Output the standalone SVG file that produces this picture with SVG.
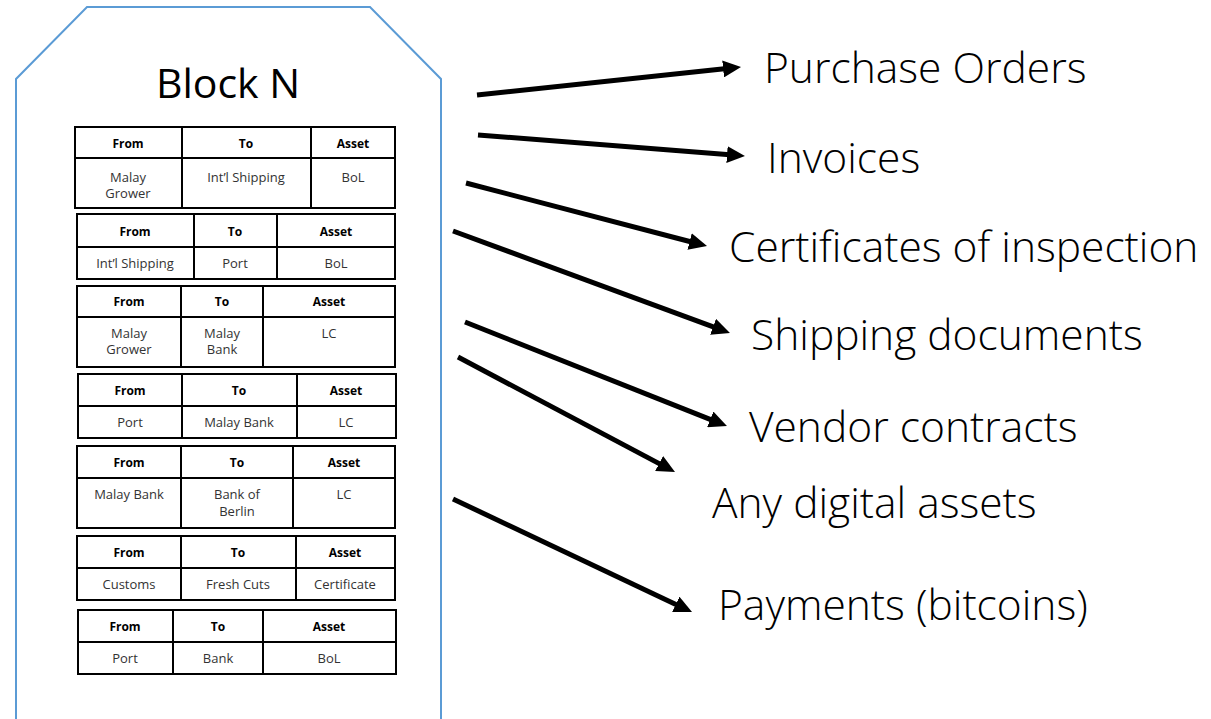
<svg xmlns="http://www.w3.org/2000/svg" width="1211" height="719" viewBox="0 0 1211 719">
<style>
.blk{fill:none;stroke:#5B9BD5;stroke-width:2}
.tb{fill:#fff;stroke:#000;stroke-width:2}
.ln{stroke:#000;stroke-width:2}
.h{font-family:"Open Sans","Liberation Sans",sans-serif;font-size:12px;font-weight:bold;fill:#000;text-anchor:middle}
.d{font-family:"Open Sans","Liberation Sans",sans-serif;font-size:13px;fill:#333;text-anchor:middle}
.title{font-family:"Open Sans","Liberation Sans",sans-serif;font-size:41px;fill:#000;text-anchor:middle}
.lbl{font-family:"Open Sans","Liberation Sans",sans-serif;font-size:42.5px;font-weight:300;fill:#000}
.arr{stroke:#000;stroke-width:5;fill:none;marker-end:url(#ah)}
</style>
<defs>
<marker id="ah" markerUnits="userSpaceOnUse" markerWidth="18" markerHeight="17" refX="6" refY="8.5" orient="auto">
<path d="M0,0 L18,8.5 L0,17 Z" fill="#000"/>
</marker>
</defs>
<rect width="1211" height="719" fill="#fff"/>
<g id="block">
<path class="blk" d="M16,719 L16,79 L87,7 L370,7 L441,79 L441,719"/>
<text class="title" x="228" y="98">Block N</text>
</g>
<g id="table1">
<rect class="tb" x="75" y="127" width="320" height="81"/>
<line class="ln" x1="75" y1="158" x2="395" y2="158"/>
<line class="ln" x1="182" y1="127" x2="182" y2="208"/>
<line class="ln" x1="311" y1="127" x2="311" y2="208"/>
<text class="h" x="128" y="148">From</text><text class="h" x="246" y="148">To</text><text class="h" x="353" y="148">Asset</text>
<text class="d" x="128" y="182">Malay</text><text class="d" x="128" y="198">Grower</text>
<text class="d" x="246" y="182">Int’l Shipping</text><text class="d" x="353" y="182">BoL</text>
</g>
<g id="table2">
<rect class="tb" x="77" y="214" width="318" height="65"/>
<line class="ln" x1="77" y1="247" x2="395" y2="247"/>
<line class="ln" x1="194" y1="214" x2="194" y2="279"/>
<line class="ln" x1="277" y1="214" x2="277" y2="279"/>
<text class="h" x="135" y="236">From</text><text class="h" x="235" y="236">To</text><text class="h" x="336" y="236">Asset</text>
<text class="d" x="135" y="268">Int’l Shipping</text><text class="d" x="235" y="268">Port</text><text class="d" x="336" y="268">BoL</text>
</g>
<g id="table3">
<rect class="tb" x="77" y="286" width="318" height="81"/>
<line class="ln" x1="77" y1="317" x2="395" y2="317"/>
<line class="ln" x1="181" y1="286" x2="181" y2="367"/>
<line class="ln" x1="263" y1="286" x2="263" y2="367"/>
<text class="h" x="129" y="306">From</text><text class="h" x="222" y="306">To</text><text class="h" x="329" y="306">Asset</text>
<text class="d" x="129" y="338">Malay</text><text class="d" x="129" y="354">Grower</text>
<text class="d" x="222" y="338">Malay</text><text class="d" x="222" y="354">Bank</text>
<text class="d" x="329" y="338">LC</text>
</g>
<g id="table4">
<rect class="tb" x="78" y="374" width="318" height="64"/>
<line class="ln" x1="78" y1="406" x2="396" y2="406"/>
<line class="ln" x1="182" y1="374" x2="182" y2="438"/>
<line class="ln" x1="297" y1="374" x2="297" y2="438"/>
<text class="h" x="130" y="395">From</text><text class="h" x="239" y="395">To</text><text class="h" x="346" y="395">Asset</text>
<text class="d" x="130" y="427">Port</text><text class="d" x="239" y="427">Malay Bank</text><text class="d" x="346" y="427">LC</text>
</g>
<g id="table5">
<rect class="tb" x="77" y="446" width="318" height="82"/>
<line class="ln" x1="77" y1="478" x2="395" y2="478"/>
<line class="ln" x1="181" y1="446" x2="181" y2="528"/>
<line class="ln" x1="293" y1="446" x2="293" y2="528"/>
<text class="h" x="129" y="467">From</text><text class="h" x="237" y="467">To</text><text class="h" x="344" y="467">Asset</text>
<text class="d" x="129" y="499">Malay Bank</text>
<text class="d" x="237" y="499">Bank of</text><text class="d" x="237" y="516">Berlin</text>
<text class="d" x="344" y="499">LC</text>
</g>
<g id="table6">
<rect class="tb" x="77" y="536" width="318" height="64"/>
<line class="ln" x1="77" y1="568" x2="395" y2="568"/>
<line class="ln" x1="181" y1="536" x2="181" y2="600"/>
<line class="ln" x1="296" y1="536" x2="296" y2="600"/>
<text class="h" x="129" y="557">From</text><text class="h" x="238" y="557">To</text><text class="h" x="345" y="557">Asset</text>
<text class="d" x="129" y="589">Customs</text><text class="d" x="238" y="589">Fresh Cuts</text><text class="d" x="345" y="589">Certificate</text>
</g>
<g id="table7">
<rect class="tb" x="78" y="610" width="318" height="64"/>
<line class="ln" x1="78" y1="642" x2="396" y2="642"/>
<line class="ln" x1="173" y1="610" x2="173" y2="674"/>
<line class="ln" x1="263" y1="610" x2="263" y2="674"/>
<text class="h" x="125" y="631">From</text><text class="h" x="218" y="631">To</text><text class="h" x="329" y="631">Asset</text>
<text class="d" x="125" y="663">Port</text><text class="d" x="218" y="663">Bank</text><text class="d" x="329" y="663">BoL</text>
</g>
<g id="connectors">
<line class="arr" x1="477" y1="95" x2="729.1" y2="68.3"/>
<line class="arr" x1="478" y1="135" x2="733" y2="155.1"/>
<line class="arr" x1="466" y1="183" x2="695.4" y2="243"/>
<line class="arr" x1="453" y1="231" x2="718.7" y2="328.9"/>
<line class="arr" x1="465" y1="322" x2="715.8" y2="421.6"/>
<line class="arr" x1="458" y1="357" x2="664.4" y2="466.4"/>
<line class="arr" x1="453" y1="499" x2="681.2" y2="606.9"/>
</g>
<g id="label-po"><text class="lbl" x="764" y="83">Purchase Orders</text></g>
<g id="label-inv"><text class="lbl" x="767" y="173">Invoices</text></g>
<g id="label-cert"><text class="lbl" x="729" y="262">Certificates of inspection</text></g>
<g id="label-ship"><text class="lbl" x="751" y="350">Shipping documents</text></g>
<g id="label-vendor"><text class="lbl" x="749" y="442">Vendor contracts</text></g>
<g id="label-any"><text class="lbl" x="712" y="518">Any digital assets</text></g>
<g id="label-pay"><text class="lbl" x="718" y="620">Payments (bitcoins)</text></g>
</svg>
